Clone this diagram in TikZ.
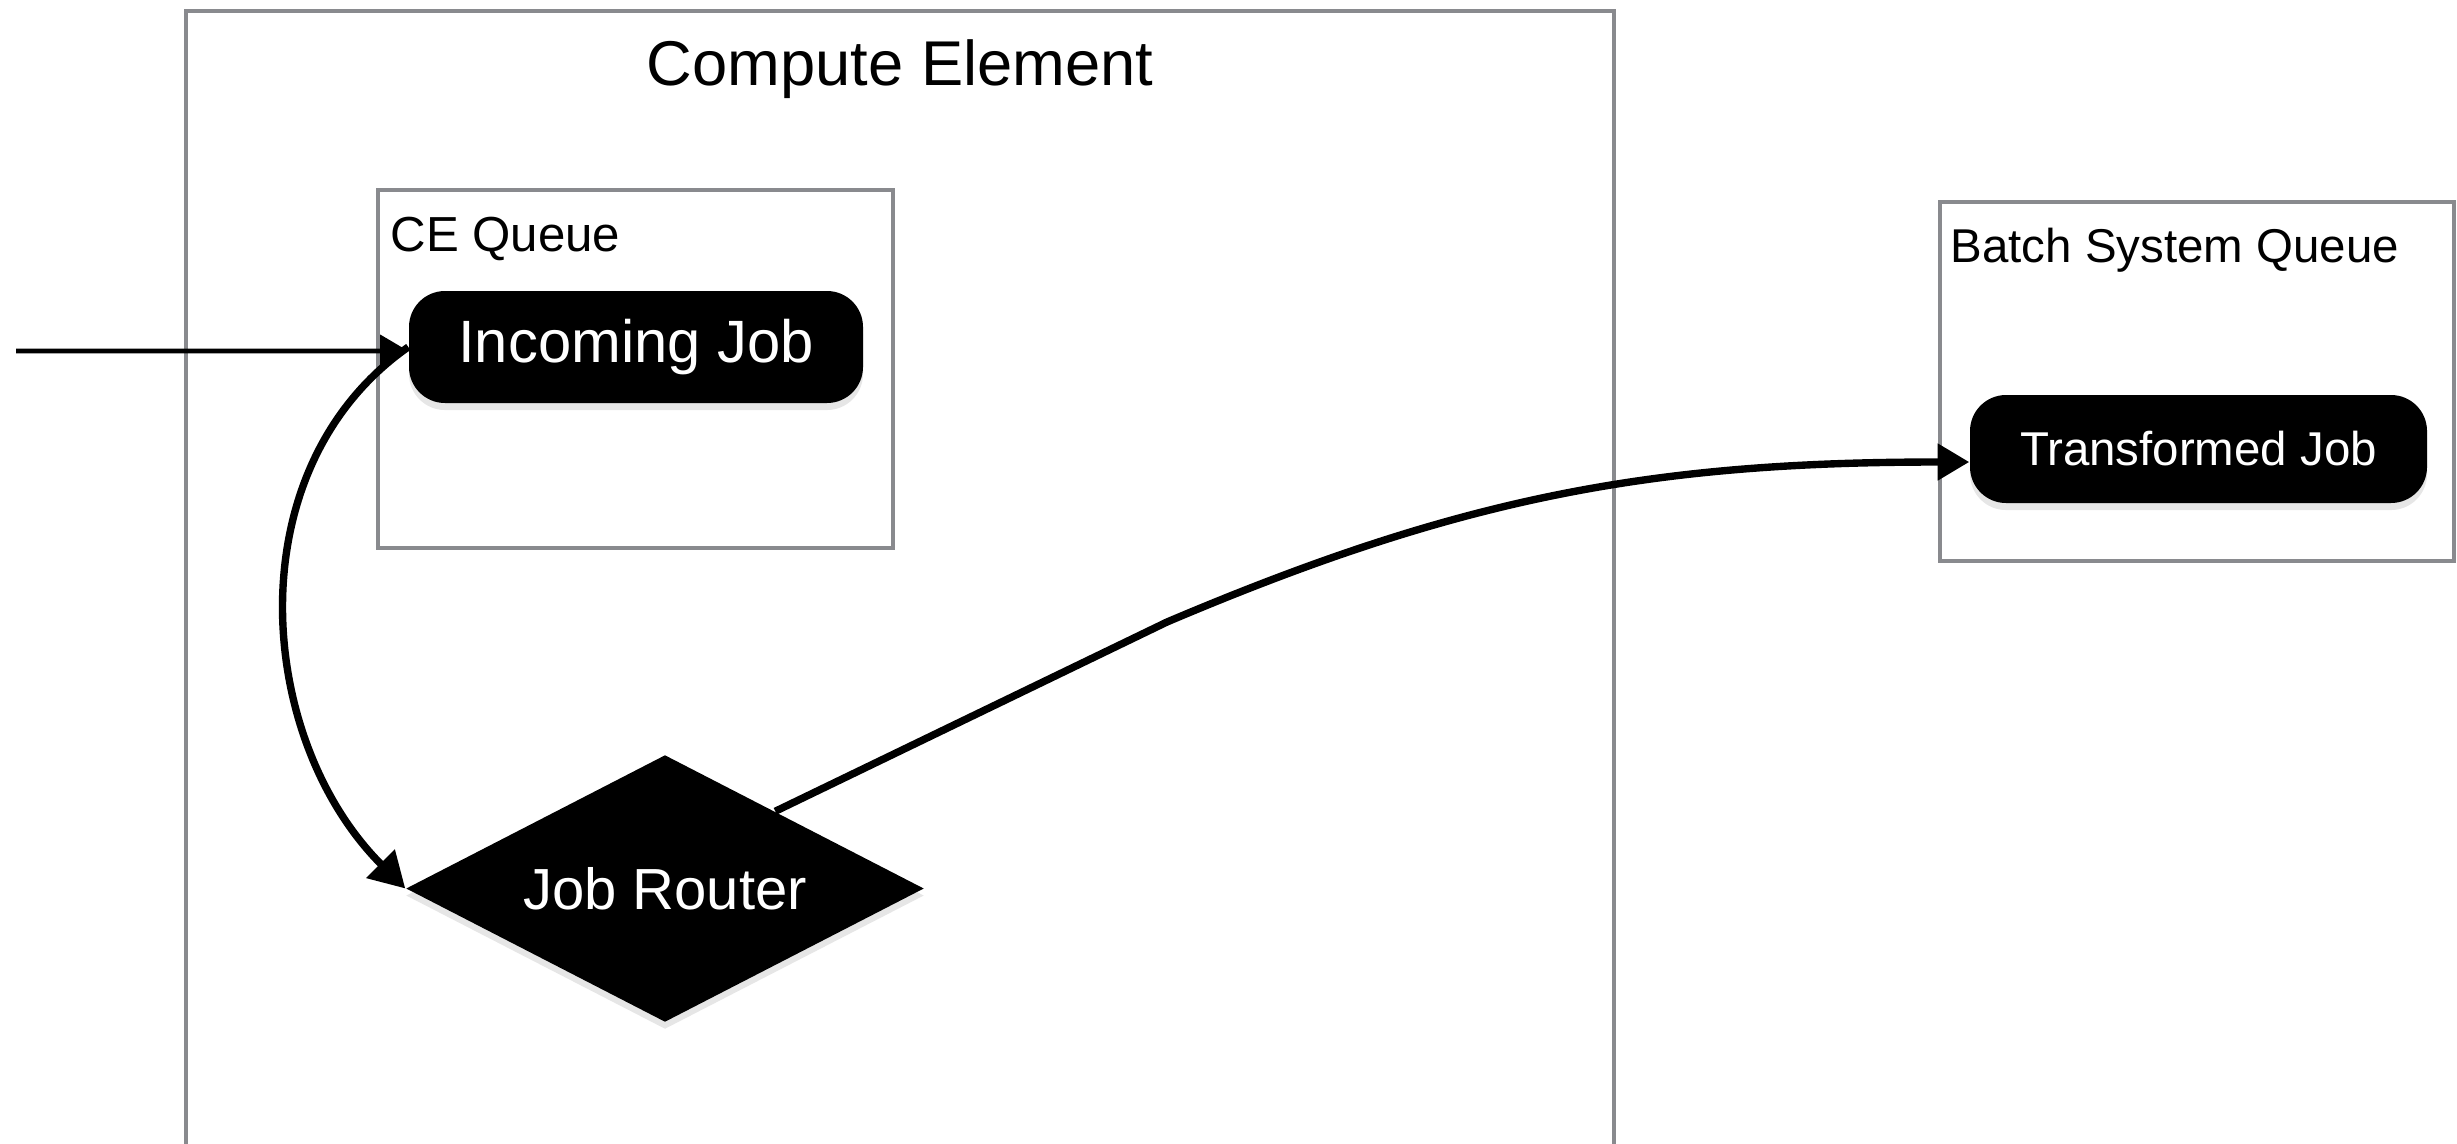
\documentclass[tikz,border=0pt]{standalone}
\usepackage{fontspec}
\setmainfont{Liberation Sans}
\usepackage{tikz}
\usetikzlibrary{positioning,arrows.meta,shapes.geometric,shadows}
\definecolor{boxgray}{HTML}{898A8E}

\begin{document}
\begin{tikzpicture}[
  box/.style={draw=boxgray, line width=1.2pt, inner sep=0pt},
  job/.style={fill=black, text=white, rounded corners=0.36cm, inner sep=0pt,
    drop shadow={shadow xshift=0pt, shadow yshift=-2pt, opacity=0.2}},
  link/.style={draw=black, line width=2.1pt, -{Triangle[length=10pt, width=11pt]}},
  feed/.style={draw=black, line width=1.4pt, -{Triangle[length=8pt, width=9pt]}},
  every node/.style={font=\fontsize{14}{16}\selectfont}]

  \useasboundingbox (0,0) rectangle (24.57,-11.43);

  % containers
  \node[box, minimum width=14.28cm, minimum height=11.6cm] (ce) at (9.0,-5.91) {};
  \node[box, minimum width=5.15cm, minimum height=3.58cm] (ceq) at (6.355,-3.69) {};
  \node[box, minimum width=5.14cm, minimum height=3.59cm] (bsq) at (21.97,-3.815) {};

  \node[anchor=base, inner sep=0pt, font=\fontsize{18}{21}\selectfont]
    (cetitle) at ([yshift=-0.77cm]ce.north) {Compute Element};
  \node[anchor=base west, inner sep=0pt]
    (ceqlabel) at ([xshift=0.14cm, yshift=-0.64cm]ceq.north west) {CE Queue};
  \node[anchor=base west, inner sep=0pt, font=\fontsize{13.5}{16}\selectfont]
    (bsqlabel) at ([xshift=0.12cm, yshift=-0.63cm]bsq.north west) {Batch System Queue};

  % jobs and router
  \node[job, minimum width=4.54cm, minimum height=1.12cm, font=\fontsize{17}{20}\selectfont]
    (injob) at (6.36,-3.47) {Incoming Job};
  \node[job, minimum width=4.57cm, minimum height=1.08cm, font=\fontsize{13.5}{16}\selectfont]
    (tjob) at (21.985,-4.49) {Transformed Job};
  \node[shape=diamond, aspect=1.94, fill=black, text=white, inner sep=0pt,
    minimum width=5.18cm, minimum height=2.67cm, font=\fontsize{16.5}{19}\selectfont,
    drop shadow={shadow xshift=0pt, shadow yshift=-2pt, opacity=0.2}]
    (router) at (6.65,-8.885) {Job Router};

  % connectors
  \coordinate (src) at (0.16,-3.51);
  \coordinate (bend) at (11.67,-6.22);

  \draw[feed] (src) -- ([yshift=-0.04cm]injob.west);
  \draw[link] (injob.west) to[out=215, in=135] (router.west);
  \draw[link, -{Triangle[length=9pt, width=10pt]}]
    (router.35) -- (bend) to[out=23, in=180] ([yshift=-0.13cm]tjob.west);

\end{tikzpicture}
\end{document}
